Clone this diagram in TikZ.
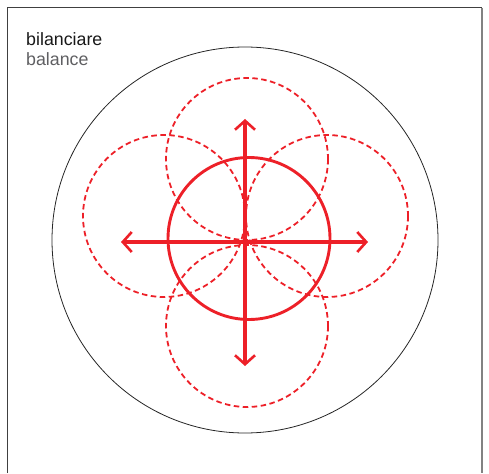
\documentclass[tikz,border=0pt]{standalone}
\usepackage{fontspec}
\setmainfont{Liberation Sans}
\usetikzlibrary{arrows.meta}
\definecolor{bred}{RGB}{237,32,40}
\definecolor{tgray}{RGB}{95,95,98}
\definecolor{fgray}{RGB}{130,130,130}
\begin{document}
\begin{tikzpicture}[x=1pt,y=-1pt,
  arr/.style={bred,line width=3.2pt,{Straight Barb[length=9pt,width=20pt,line width=2.6pt]}-{Straight Barb[length=9pt,width=20pt,line width=2.6pt]}},
  dashcirc/.style={bred,line width=1.8pt,dash pattern=on 5.5pt off 3.5pt},
  solidcirc/.style={bred,line width=2.9pt},
  lbl/.style={anchor=base west,inner sep=0pt,font=\fontsize{17.8}{20}\selectfont}]
\useasboundingbox (0,0) rectangle (489,473);
% frame
\draw[black!75,line width=1pt] (7,473) -- (7,8) -- (482,8);
\draw[fgray,line width=1.6pt] (482,8) -- (482,473);
% labels
\node[lbl,text=black!90] (t1) at (26,46) {bilanciare};
\node[lbl,text=tgray] (t2) at (26,66) {balance};
% outer circle
\coordinate (c) at (245,241);
\draw[black!85,line width=0.8pt] (245,240) circle[radius=193];
% dashed circles
\draw[dashcirc] (247,159) circle[radius=81];
\draw[dashcirc] (164,216) circle[radius=81];
\draw[dashcirc] (327,216) circle[radius=81];
\draw[dashcirc] (247,326) circle[radius=81];
% solid circle
\draw[solidcirc] (249,238.5) circle[radius=81];
% arrows
\coordinate (l) at (121,242);
\coordinate (r) at (368,242);
\coordinate (t) at (245,119);
\coordinate (b) at (245,366);
\draw[arr] (l) -- (r);
\draw[arr] (t) -- (b);
\end{tikzpicture}
\end{document}
